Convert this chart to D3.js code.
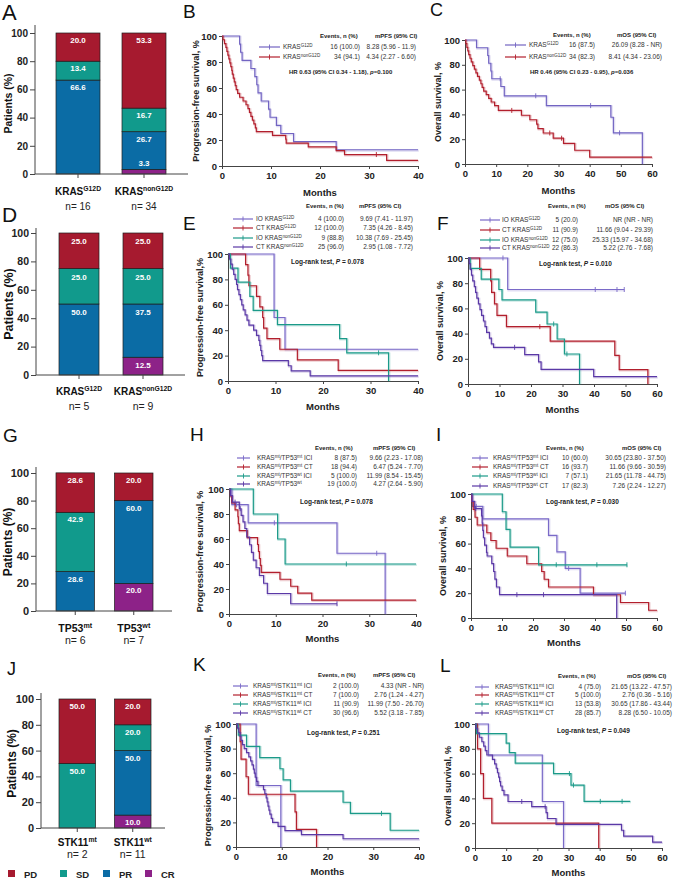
<!DOCTYPE html>
<html><head><meta charset="utf-8">
<script src="https://cdn.jsdelivr.net/npm/d3@7"></script>
<style>
body{margin:0;background:#fff}
svg{display:block}
text{font-family:"Liberation Sans",Arial,Helvetica,sans-serif}
</style></head>
<body><svg id="c" width="676" height="880"></svg>
<script>
// ---------------- DATA ----------------
const RESP_KEYS = ["CR","PR","SD","PD"];
const RESP_LABELS = ["PD","SD","PR","CR"];

const A_cats = ["KRAS^{G12D}","KRAS^{nonG12D}"];
const A_n = ["n= 16","n= 34"];
const A_CR = [0, 3.3], A_PR = [66.6, 26.7], A_SD = [13.4, 16.7], A_PD = [20.0, 53.3];

const D_cats = ["KRAS^{G12D}","KRAS^{nonG12D}"];
const D_n = ["n= 5","n= 9"];
const D_CR = [0, 12.5], D_PR = [50.0, 37.5], D_SD = [25.0, 25.0], D_PD = [25.0, 25.0];

const G_cats = ["TP53^{mt}","TP53^{wt}"];
const G_n = ["n= 6","n= 7"];
const G_CR = [0, 20.0], G_PR = [28.6, 60.0], G_SD = [42.9, 0], G_PD = [28.6, 20.0];

const J_cats = ["STK11^{mt}","STK11^{wt}"];
const J_n = ["n= 2","n= 11"];
const J_CR = [0, 10.0], J_PR = [0, 50.0], J_SD = [50.0, 20.0], J_PD = [50.0, 20.0];

// Kaplan-Meier step points [month, survival %] and censor times
const B_names = ["KRAS^{G12D}","KRAS^{nonG12D}"];
const B_events = ["16 (100.0)","34 (94.1)"];
const B_median = ["8.28 (5.96 - 11.9)","4.34 (2.27 - 6.60)"];
const B_s0 = [[0,100],[3.6,93.75],[3.8,87.5],[4.1,81.25],[5.9,75],[6.7,68.75],[7.1,62.5],[7.35,56.25],[8.0,50],[9.5,43.75],[9.8,37.5],[11.1,31.25],[12.0,25],[14.6,18.75],[23.3,12.5],[40,12.5]];
const B_s1 = [[0,100],[0.2,97.1],[0.5,94.1],[0.8,91.2],[1.0,88.2],[1.2,85.3],[1.4,82.4],[1.6,79.4],[1.8,76.5],[2.0,73.5],[2.1,70.6],[2.3,67.6],[2.5,64.7],[2.7,61.8],[2.9,58.8],[3.2,55.9],[3.6,52.9],[4.3,50],[4.9,47.1],[5.3,44.1],[5.6,41.2],[5.9,38.2],[6.2,35.3],[6.5,32.4],[6.8,29.4],[7.0,26.5],[10.3,23.5],[13.0,20.6],[13.1,17.6],[17.6,14.7],[23.3,11.8],[25.0,8.8],[33.6,4.4],[40,4.4]];
const B_c0 = [], B_c1 = [31.5];

const C_names = ["KRAS^{G12D}","KRAS^{nonG12D}"];
const C_events = ["16 (87.5)","34 (82.3)"];
const C_median = ["26.09 (8.28 - NR)","8.41 (4.34 - 23.06)"];
const C_s0 = [[0,100],[3.7,93.75],[7.3,87.5],[7.6,81.25],[8.3,75],[8.6,68.75],[11.5,62.5],[12.6,55],[26.1,47.1],[46.8,37.7],[47.6,25.1],[56.9,0]];
const C_s1 = [[0,100],[0.3,97.1],[0.6,94.1],[0.9,91.2],[1.2,88.2],[1.6,85.3],[2.0,82.4],[2.5,79.4],[3.0,76.5],[3.5,73.5],[4.0,70.6],[4.6,67.6],[5.1,64.7],[5.5,61.8],[6.0,58.8],[6.8,55.9],[7.6,52.9],[8.4,50],[9.5,47.1],[10.7,43.2],[18.1,39.3],[20.8,35.7],[23.0,32.1],[23.4,28.6],[25.1,25.0],[28.3,20.8],[31.6,16.6],[35.2,11.1],[40.0,5.6],[60,5.6]];
const C_c0 = [11.3, 22.7, 40.3, 49.6], C_c1 = [15.0, 27.2, 31.0];

const E_names = ["IO KRAS^{G12D}","CT KRAS^{G12D}","IO KRAS^{nonG12D}","CT KRAS^{nonG12D}"];
const E_events = ["4 (100.0)","12 (100.0)","9 (88.8)","25 (96.0)"];
const E_median = ["9.69 (7.41 - 11.97)","7.35 (4.26 - 8.45)","10.38 (7.69 - 25.45)","2.95 (1.08 - 7.72)"];
const E_s0 = [[0,100],[9.7,50],[12.0,25],[40,25]];
const E_s1 = [[0,100],[3.7,91.7],[4.2,83.3],[4.4,75],[6.0,66.7],[6.7,58.3],[7.3,50],[7.5,41.7],[8.2,33.3],[10.9,25],[14.6,16.7],[23.2,8.3],[40,8.3]];
const E_s2 = [[0,100],[0.5,88.9],[2.1,77.8],[4.6,66.7],[5.3,55.6],[10.4,44.4],[23.5,33.3],[25.0,22.2],[33.8,0]];
const E_s3 = [[0,100],[0.3,96],[0.6,92],[0.9,88],[1.2,84],[1.5,80],[1.8,76],[2.0,72],[2.3,68],[2.6,64],[2.9,60],[3.2,56],[3.6,52],[4.0,48],[4.4,44],[5.4,40],[6.0,36],[6.5,32],[6.7,28],[6.9,24],[7.1,20],[7.3,16],[12.7,12],[13.3,8],[17.3,4],[40,4]];
const E_c0 = [], E_c1 = [], E_c2 = [31.7], E_c3 = [];

const F_names = ["IO KRAS^{G12D}","CT KRAS^{G12D}","IO KRAS^{nonG12D}","CT KRAS^{nonG12D}"];
const F_events = ["5 (20.0)","11 (90.9)","12 (75.0)","22 (86.3)"];
const F_median = ["NR (NR - NR)","11.66 (9.04 - 29.39)","25.33 (15.97 - 34.68)","5.22 (2.76 - 7.68)"];
const F_s0 = [[0,100],[12.6,75],[49.6,75]];
const F_s1 = [[0,100],[3.7,90.9],[7.2,81.8],[7.5,72.7],[8.4,63.6],[9.2,54.5],[12.2,45.5],[26.1,34.1],[46.6,22.7],[48.0,11.4],[57.1,0]];
const F_s2 = [[0,100],[0.7,91.7],[4.2,83.3],[9.8,75],[10.8,66.7],[21.5,57.1],[25.1,47.6],[28.3,35.7],[30.6,23.8],[35.4,0]];
const F_s3 = [[0,100],[0.4,95.5],[0.7,90.9],[1.1,86.4],[1.5,81.8],[2.0,77.3],[2.4,72.7],[2.8,68.2],[3.3,63.6],[3.8,59.1],[4.3,54.5],[4.9,50],[5.4,45.5],[5.9,40.9],[6.8,36.4],[7.4,31.8],[8.1,29.1],[18.0,23.3],[22.4,17.5],[23.2,11.6],[39.9,5.8],[60,5.8]];
const F_c0 = [11.1, 40.4, 47.3, 49.6], F_c1 = [22.8], F_c2 = [27.2, 31.4], F_c3 = [14.8];

const H_names = ["KRAS^{mt}/TP53^{mt} ICI","KRAS^{mt}/TP53^{mt} CT","KRAS^{mt}/TP53^{wt} ICI","KRAS^{mt}/TP53^{wt}"];
const H_events = ["8 (87.5)","18 (94.4)","5 (100.0)","19 (100.0)"];
const H_median = ["9.66 (2.23 - 17.08)","6.47 (5.24 - 7.70)","11.99 (8.54 - 15.45)","4.27 (2.64 - 5.90)"];
const H_s0 = [[0,100],[0.6,87.5],[4.1,72.9],[23.1,48.6],[33.4,0]];
const H_s1 = [[0,100],[0.3,94.4],[0.6,88.9],[1.3,83.3],[1.9,77.8],[2.0,72.2],[2.2,66.7],[3.9,61.1],[6.1,55.6],[6.3,50],[6.5,44.4],[6.7,38.9],[6.9,33.3],[10.9,27.8],[13.2,22.2],[14.7,16.7],[17.7,11.1],[40,11.1]];
const H_s2 = [[0,100],[5.2,80],[10.4,60],[12.0,40],[40,40]];
const H_s3 = [[0,100],[0.3,94.7],[0.7,89.5],[2.2,84.2],[2.6,78.9],[3.0,73.7],[3.4,68.4],[3.8,61.6],[4.4,55.4],[4.8,49.3],[5.2,43.1],[5.8,37.0],[6.5,30.8],[7.4,24.6],[8.2,16.4],[13.2,8.2],[23.1,8.2]];
const H_c0 = [1.6, 9.7, 31.6], H_c1 = [], H_c2 = [25.1], H_c3 = [1.3, 2.4, 23.1];

const I_names = ["KRAS^{mt}/TP53^{mt} ICI","KRAS^{mt}/TP53^{mt} CT","KRAS^{mt}/TP53^{wt} ICI","KRAS^{mt}/TP53^{wt} CT"];
const I_events = ["10 (60.0)","16 (93.7)","7 (57.1)","17 (82.3)"];
const I_median = ["30.65 (23.80 - 37.50)","11.66 (9.66 - 30.59)","21.65 (11.78 - 44.75)","7.26 (2.24 - 12.27)"];
const I_s0 = [[0,100],[0.5,90],[3.8,80],[25.0,66.7],[27.7,53.3],[30.4,40],[35.2,20],[49.8,20]];
const I_s1 = [[0,100],[0.2,93.75],[0.7,87.5],[1.3,81.25],[2.0,75],[5.1,68.75],[6.4,62.5],[8.1,56.25],[11.7,50],[18.0,43.75],[22.8,37.5],[23.6,31.25],[25.0,25],[39.5,18.75],[48.2,12.5],[57.3,6.25],[60,6.25]];
const I_s2 = [[0,100],[10.1,85.7],[11.3,71.4],[12.6,57.1],[21.8,42.9],[50.3,42.9]];
const I_s3 = [[0,100],[0.3,94.1],[1.2,88.2],[3.4,82.4],[3.6,76.5],[3.8,70.6],[4.0,64.7],[4.4,58.8],[5.0,52.9],[5.2,50.0],[6.7,43.8],[7.3,37.5],[7.7,31.3],[8.2,25.0],[9.2,18.8],[47.0,0]];
const I_c0 = [1.7, 31.5, 49.8], I_c1 = [], I_c2 = [27.5, 40.6, 50.3], I_c3 = [1.5, 14.8, 23.4];

const K_names = ["KRAS^{mt}/STK11^{mt} ICI","KRAS^{mt}/STK11^{mt} CT","KRAS^{mt}/STK11^{wt} ICI","KRAS^{mt}/STK11^{wt} CT"];
const K_events = ["2 (100.0)","7 (100.0)","11 (90.9)","30 (96.6)"];
const K_median = ["4.33 (NR - NR)","2.76 (1.24 - 4.27)","11.99 (7.50 - 26.70)","5.52 (3.18 - 7.85)"];
const K_s0 = [[0,100],[4.4,50],[9.8,0]];
const K_s1 = [[0,100],[0.9,85.7],[1.1,71.4],[2.2,57.1],[2.7,42.9],[12.9,28.6],[13.2,14.3],[17.6,0]];
const K_s2 = [[0,100],[0.5,90.9],[2.3,81.8],[5.2,72.7],[9.6,63.6],[10.3,54.5],[11.9,45.5],[23.4,36.4],[25.0,27.3],[33.7,13.6],[40,13.6]];
const K_s3 = [[0,100],[0.3,96.7],[0.6,93.3],[0.9,90],[1.1,86.7],[1.4,83.3],[1.8,80],[2.3,76.7],[2.8,73.3],[3.2,70],[3.5,66.7],[3.8,63.3],[4.0,60],[4.2,56.7],[4.5,53.3],[4.8,50],[6.0,46.7],[6.3,43.3],[6.6,40],[6.8,36.7],[7.0,33.3],[7.2,30],[7.4,26.7],[7.7,23.3],[8.0,20],[9.2,16.7],[10.7,13.3],[14.3,10],[23.4,6.7],[40,6.7]];
const K_c0 = [], K_c1 = [], K_c2 = [31.8], K_c3 = [];

const L_names = ["KRAS^{mt}/STK11^{mt} ICI","KRAS^{mt}/STK11^{mt} CT","KRAS^{mt}/STK11^{wt} ICI","KRAS^{mt}/STK11^{wt} CT"];
const L_events = ["4 (75.0)","5 (100.0)","13 (53.8)","28 (85.7)"];
const L_median = ["21.65 (13.22 - 47.57)","2.76 (0.36 - 5.16)","30.65 (17.86 - 43.44)","8.28 (6.50 - 10.05)"];
const L_s0 = [[0,100],[4.3,75],[21.6,37.5],[28.4,0]];
const L_s1 = [[0,100],[0.8,80],[1.8,60],[2.7,40],[5.4,20],[39.7,0]];
const L_s2 = [[0,100],[0.5,92.3],[10.0,84.6],[11.0,76.9],[12.9,68.4],[25.2,60.0],[30.8,50.7],[35.0,37.6],[49.8,37.6]];
const L_s3 = [[0,100],[0.3,96.4],[0.8,92.9],[1.4,89.3],[2.2,85.7],[2.8,82.1],[3.3,78.6],[3.8,75.0],[5.6,71.4],[6.3,67.9],[6.8,64.3],[7.2,60.7],[7.6,57.1],[7.9,53.6],[8.2,50.0],[8.7,46.4],[9.3,42.9],[10.6,37.5],[18.2,33.3],[22.8,28.6],[23.2,23.8],[26.0,19.0],[47.0,14.3],[47.7,9.5],[57.0,4.8],[60,4.8]];
const L_c0 = [], L_c1 = [], L_c2 = [30.3, 31.6, 40.2, 47.2], L_c3 = [15.0, 22.5];

// ---------------- STYLE ----------------
const RESP_COLORS = {PD:"#a61a2f", SD:"#119a8c", PR:"#0b6ca5", CR:"#8d2288"};
const KM2 = ["#7264c2","#b21f2d"];
const KM4 = ["#7a6ac8","#b21f2d","#1b9a89","#5a38a6"];

const svg = d3.select("#c");

function rich(sel, str, size, supScale) {
  supScale = supScale || 0.66;
  const parts = str.split(/(\^\{[^}]*\}|\*[^*]*\*)/).filter(s => s.length);
  let shifted = false;
  parts.forEach(p => {
    const t = sel.append("tspan");
    if (p.startsWith("^{")) {
      t.text(p.slice(2, -1)).attr("font-size", size * supScale);
      if (!shifted) t.attr("dy", -size * 0.42);
      shifted = true;
    } else {
      const ital = p.startsWith("*");
      t.text(ital ? p.slice(1, -1) : p).attr("font-size", size);
      if (ital) t.attr("font-style", "italic");
      if (shifted) { t.attr("dy", size * 0.42); shifted = false; }
    }
  });
  return sel;
}

function letter(ch, x, y, size) {
  svg.append("text").attr("x", x).attr("y", y).attr("font-size", size || 20).attr("fill", "#111").text(ch);
}

// ---------------- BAR PANELS ----------------
function drawBars(p) {
  const g = svg.append("g");
  const rows = p.cats.map((c, i) => ({cat: c, CR: p.CR[i], PR: p.PR[i], SD: p.SD[i], PD: p.PD[i]}));
  const x = d3.scaleBand().domain(p.cats).range(p.range).paddingInner(p.pad).paddingOuter(0);
  const y = d3.scaleLinear().domain([0, 100]).range([p.yBot, p.yTop]);
  const stacked = d3.stack().keys(RESP_KEYS)(rows);
  stacked.forEach(layer => {
    layer.forEach(d => {
      const v = d[1] - d[0];
      if (v <= 0) return;
      g.append("rect").attr("x", x(d.data.cat)).attr("width", x.bandwidth())
        .attr("y", y(d[1])).attr("height", y(d[0]) - y(d[1]))
        .attr("fill", RESP_COLORS[layer.key]).attr("stroke", "#1d1d1d").attr("stroke-width", 0.7);
    });
  });
  stacked.forEach(layer => {
    layer.forEach(d => {
      const v = d[1] - d[0];
      if (v <= 0) return;
      const h = y(d[0]) - y(d[1]);
      const ty = h < 12 && layer.key === "CR" && v < 5 ? y(d[1]) - 3 : y(d[1]) + p.lblOff;
      g.append("text").attr("x", x(d.data.cat) + x.bandwidth() / 2).attr("y", ty)
        .attr("text-anchor", "middle").attr("font-size", p.lblSize).attr("font-weight", "bold")
        .attr("fill", "#fff").text(d3.format(".1f")(v));
    });
  });
  const ya = g.append("g").attr("transform", `translate(${p.ax},0)`)
    .call(d3.axisLeft(y).tickValues([0, 20, 40, 60, 80, 100]).tickSize(5).tickSizeOuter(0).tickPadding(2));
  ya.select(".domain").remove();
  ya.selectAll(".tick line").attr("stroke", "#444");
  ya.selectAll(".tick text").attr("font-size", p.tickSize).attr("font-weight", "bold").attr("fill", "#222")
    .attr("font-family", '"Liberation Sans",Arial,sans-serif');
  g.append("line").attr("x1", p.ax).attr("x2", p.ax).attr("y1", p.axTop).attr("y2", p.yBot).attr("stroke", "#444");
  g.append("line").attr("x1", p.ax).attr("x2", p.axEnd).attr("y1", p.yBot).attr("y2", p.yBot).attr("stroke", "#444");
  p.cats.forEach((c, i) => {
    const cx = x(c) + x.bandwidth() / 2;
    g.append("line").attr("x1", cx).attr("x2", cx).attr("y1", p.yBot).attr("y2", p.yBot + 4).attr("stroke", "#444");
    rich(g.append("text").attr("x", cx).attr("y", p.catY).attr("text-anchor", "middle")
      .attr("font-weight", "bold").attr("fill", "#111"), c, p.catSize, 0.68);
    g.append("text").attr("x", cx).attr("y", p.nY).attr("text-anchor", "middle")
      .attr("font-size", p.nSize).attr("fill", "#222").text(p.n[i]);
  });
  g.append("text").attr("transform", `translate(${p.ylabX},${(p.yTop + p.yBot) / 2}) rotate(-90)`)
    .attr("text-anchor", "middle").attr("font-size", p.ylabSize).attr("font-weight", "bold").attr("fill", "#111")
    .text("Patients (%)");
}

drawBars({cats: A_cats, n: A_n, CR: A_CR, PR: A_PR, SD: A_SD, PD: A_PD,
  ax: 35, yTop: 33, yBot: 174, axTop: 25, axEnd: 188, range: [56, 166], pad: 1/3,
  lblOff: 10, lblSize: 8, tickSize: 10, catY: 195, catSize: 10, nY: 210, nSize: 10, ylabX: 12, ylabSize: 10.5});
drawBars({cats: D_cats, n: D_n, CR: D_CR, PR: D_PR, SD: D_SD, PD: D_PD,
  ax: 36, yTop: 233, yBot: 375, axTop: 228, axEnd: 185, range: [59, 163], pad: 0.375,
  lblOff: 11, lblSize: 8, tickSize: 10.5, catY: 395, catSize: 10, nY: 410, nSize: 10.5, ylabX: 13, ylabSize: 12.5});
drawBars({cats: G_cats, n: G_n, CR: G_CR, PR: G_PR, SD: G_SD, PD: G_PD,
  ax: 36, yTop: 473, yBot: 611, axTop: 467, axEnd: 172, range: [56, 153], pad: 0.342,
  lblOff: 10, lblSize: 8, tickSize: 11, catY: 632, catSize: 10.5, nY: 644, nSize: 10.5, ylabX: 12, ylabSize: 12});
drawBars({cats: J_cats, n: J_n, CR: J_CR, PR: J_PR, SD: J_SD, PD: J_PD,
  ax: 41, yTop: 699, yBot: 828, axTop: 693, axEnd: 165, range: [59, 151], pad: 0.342,
  lblOff: 10, lblSize: 8, tickSize: 11, catY: 846, catSize: 10, nY: 858, nSize: 10.5, ylabX: 16, ylabSize: 12});

// response legend
const legX = [8, 60, 103, 145];
RESP_LABELS.forEach((k, i) => {
  svg.append("rect").attr("x", legX[i]).attr("y", 870).attr("width", 7).attr("height", 7).attr("fill", RESP_COLORS[k]);
  svg.append("text").attr("x", legX[i] + 16).attr("y", 877.5).attr("font-size", 9.5).attr("font-weight", "bold")
    .attr("fill", "#222").text(k);
});

// ---------------- KM PANELS ----------------
function stepVal(curve, t) {
  let v = 100;
  for (const [tt, s] of curve) { if (tt <= t) v = s; else break; }
  return v;
}

function drawKM(p) {
  const g = svg.append("g");
  const x = d3.scaleLinear().domain([0, p.xmax]).range([p.x0, p.x1]);
  const y = d3.scaleLinear().domain([0, 100]).range([p.yBot, p.yTop]);
  const line = d3.line().x(d => x(d[0])).y(d => y(d[1])).curve(d3.curveStepAfter);

  const xa = g.append("g").attr("transform", `translate(0,${p.yBot})`)
    .call(d3.axisBottom(x).tickValues(d3.range(0, p.xmax + 1, 10)).tickSize(3).tickSizeOuter(0).tickPadding(3));
  const ya = g.append("g").attr("transform", `translate(${p.x0},0)`)
    .call(d3.axisLeft(y).tickValues([0, 20, 40, 60, 80, 100]).tickSize(3).tickSizeOuter(0).tickPadding(2));
  [xa, ya].forEach(a => {
    a.select(".domain").attr("stroke", "#444");
    a.selectAll(".tick line").attr("stroke", "#444");
    a.selectAll(".tick text").attr("font-size", 9.5).attr("font-weight", "bold").attr("fill", "#222")
      .attr("font-family", '"Liberation Sans",Arial,sans-serif');
  });
  g.append("text").attr("x", (p.x0 + p.x1) / 2).attr("y", p.monthsY).attr("text-anchor", "middle")
    .attr("font-size", 9.5).attr("font-weight", "bold").attr("fill", "#222").text("Months");
  g.append("text").attr("transform", `translate(${p.ylabX},${(p.yTop + p.yBot) / 2}) rotate(-90)`)
    .attr("text-anchor", "middle").attr("font-size", 9).attr("font-weight", "bold").attr("fill", "#222").text(p.ylab);

  p.series.forEach(s => {
    g.append("path").datum(s.curve).attr("d", line).attr("fill", "none").attr("stroke", s.color)
      .attr("stroke-width", 2.2).attr("stroke-opacity", 0.22).attr("transform", "translate(0.8,0.8)");
  });
  p.series.forEach(s => {
    g.append("path").datum(s.curve).attr("d", line).attr("fill", "none").attr("stroke", s.color)
      .attr("stroke-width", 1.2);
    s.cens.forEach(t => {
      const cx = x(t), cy = y(stepVal(s.curve, t));
      g.append("line").attr("x1", cx).attr("x2", cx).attr("y1", cy - 2.5).attr("y2", cy + 2.5)
        .attr("stroke", s.color).attr("stroke-width", 0.9);
    });
  });

  const L = p.leg;
  g.append("text").attr("x", L.evX).attr("y", L.headY).attr("font-size", 6).attr("font-weight", "bold")
    .attr("fill", "#222").text("Events, n (%)");
  g.append("text").attr("x", L.medX).attr("y", L.headY).attr("font-size", 6).attr("font-weight", "bold")
    .attr("fill", "#222").text(L.medLabel);
  p.series.forEach((s, i) => {
    const ry = L.rows[i];
    g.append("line").attr("x1", L.lineX[0]).attr("x2", L.lineX[1]).attr("y1", ry).attr("y2", ry)
      .attr("stroke", s.color).attr("stroke-width", 1.2);
    const mx = (L.lineX[0] + L.lineX[1]) / 2;
    g.append("line").attr("x1", mx).attr("x2", mx).attr("y1", ry - 2.5).attr("y2", ry + 2.5)
      .attr("stroke", s.color).attr("stroke-width", 0.9);
    rich(g.append("text").attr("x", L.lblX).attr("y", ry + 2.3).attr("fill", "#333"), s.name, 6.5, 0.7);
    g.append("text").attr("x", L.evR).attr("y", ry + 2.3).attr("text-anchor", "end").attr("font-size", 6.5)
      .attr("fill", "#333").text(s.events);
    g.append("text").attr("x", L.medR).attr("y", ry + 2.3).attr("text-anchor", "end").attr("font-size", 6.5)
      .attr("fill", "#333").text(s.median);
  });
  rich(g.append("text").attr("x", p.note.x).attr("y", p.note.y).attr("font-weight", "bold").attr("fill", "#222"),
    p.note.text, p.note.size, 0.7);
}

function mk(names, events, median, curves, cens, colors) {
  return names.map((n, i) => ({name: n, events: events[i], median: median[i], curve: curves[i], cens: cens[i], color: colors[i]}));
}

drawKM({x0: 222, x1: 418, yTop: 36, yBot: 166, xmax: 40, ylab: "Progression-free survival, %", ylabX: 199, monthsY: 196,
  series: mk(B_names, B_events, B_median, [B_s0, B_s1], [B_c0, B_c1], KM2),
  leg: {headY: 38, evX: 320, medX: 375, medLabel: "mPFS (95% CI)", rows: [47, 57], lineX: [259, 280], lblX: 283, evR: 360, medR: 416},
  note: {x: 289, y: 74, text: "HR 0.63 (95% CI 0.34 - 1.18), *p*=0.100", size: 6}});
drawKM({x0: 465, x1: 652, yTop: 40, yBot: 164, xmax: 60, ylab: "Overall survival, %", ylabX: 441, monthsY: 194,
  series: mk(C_names, C_events, C_median, [C_s0, C_s1], [C_c0, C_c1], KM2),
  leg: {headY: 37, evX: 553, medX: 617, medLabel: "mOS (95% CI)", rows: [45, 57], lineX: [505, 526], lblX: 529, evR: 595, medR: 662},
  note: {x: 530, y: 74, text: "HR 0.46 (95% CI 0.23 - 0.95), *p*=0.036", size: 6}});
drawKM({x0: 228, x1: 418, yTop: 254, yBot: 381, xmax: 40, ylab: "Progression-free survival,%", ylabX: 203, monthsY: 410,
  series: mk(E_names, E_events, E_median, [E_s0, E_s1, E_s2, E_s3], [E_c0, E_c1, E_c2, E_c3], KM4),
  leg: {headY: 208, evX: 306, medX: 359, medLabel: "mPFS (95% CI)", rows: [219, 228, 238, 247], lineX: [233, 253], lblX: 256, evR: 344, medR: 413},
  note: {x: 291, y: 264, text: "Log-rank test, *P* =  0.078", size: 6.5}});
drawKM({x0: 468, x1: 657, yTop: 258, yBot: 384, xmax: 60, ylab: "Overall survival, %", ylabX: 443, monthsY: 413,
  series: mk(F_names, F_events, F_median, [F_s0, F_s1, F_s2, F_s3], [F_c0, F_c1, F_c2, F_c3], KM4),
  leg: {headY: 208, evX: 548, medX: 605, medLabel: "mOS (95% CI)", rows: [220, 230, 240, 248], lineX: [480, 500], lblX: 502, evR: 578, medR: 653},
  note: {x: 539, y: 266, text: "Log-rank test, *P* = 0.010", size: 6.5}});
drawKM({x0: 229, x1: 416, yTop: 489, yBot: 614, xmax: 40, ylab: "Progression-free survival, %", ylabX: 203, monthsY: 642,
  series: mk(H_names, H_events, H_median, [H_s0, H_s1, H_s2, H_s3], [H_c0, H_c1, H_c2, H_c3], KM4),
  leg: {headY: 450, evX: 315, medX: 373, medLabel: "mPFS (95% CI)", rows: [458, 467, 476, 484], lineX: [237, 250], lblX: 257, evR: 357, medR: 423},
  note: {x: 300, y: 504, text: "Log-rank test, *P* = 0.078", size: 6.5}});
drawKM({x0: 471, x1: 657, yTop: 494, yBot: 618, xmax: 60, ylab: "Overall survival, %", ylabX: 446, monthsY: 646,
  series: mk(I_names, I_events, I_median, [I_s0, I_s1, I_s2, I_s3], [I_c0, I_c1, I_c2, I_c3], KM4),
  leg: {headY: 450, evX: 546, medX: 622, medLabel: "mOS (95% CI)", rows: [458, 467, 476, 486], lineX: [472, 488], lblX: 493, evR: 588, medR: 666},
  note: {x: 546, y: 504, text: "Log-rank test, *P*  =  0.030", size: 6.5}});
drawKM({x0: 236, x1: 419, yTop: 724, yBot: 847, xmax: 40, ylab: "Progression-free survival, %", ylabX: 211, monthsY: 875,
  series: mk(K_names, K_events, K_median, [K_s0, K_s1, K_s2, K_s3], [K_c0, K_c1, K_c2, K_c3], KM4),
  leg: {headY: 677, evX: 318, medX: 373, medLabel: "mPFS (95% CI)", rows: [686, 695, 704, 713], lineX: [233, 248], lblX: 253, evR: 359, medR: 424},
  note: {x: 307, y: 735, text: "Log-rank test, *P* = 0.251", size: 6.5}});
drawKM({x0: 475, x1: 662, yTop: 724, yBot: 848, xmax: 60, ylab: "Overall survival, %", ylabX: 451, monthsY: 876,
  series: mk(L_names, L_events, L_median, [L_s0, L_s1, L_s2, L_s3], [L_c0, L_c1, L_c2, L_c3], KM4),
  leg: {headY: 678, evX: 558, medX: 627, medLabel: "mOS (95% CI)", rows: [687, 695, 704, 713], lineX: [475, 489], lblX: 495, evR: 601, medR: 672},
  note: {x: 557, y: 733, text: "Log-rank test, *P* = 0.049", size: 6.5}});

// panel letters
letter("A", 2, 20, 22); letter("B", 183, 18, 19); letter("C", 430, 16, 18);
letter("D", 2, 222, 21); letter("E", 183, 230, 19); letter("F", 437, 230, 19);
letter("G", 3, 442, 19); letter("H", 190, 441, 19); letter("I", 436, 441, 19);
letter("J", 7, 675, 18); letter("K", 193, 671, 19); letter("L", 440, 672, 19);
</script></body></html>
